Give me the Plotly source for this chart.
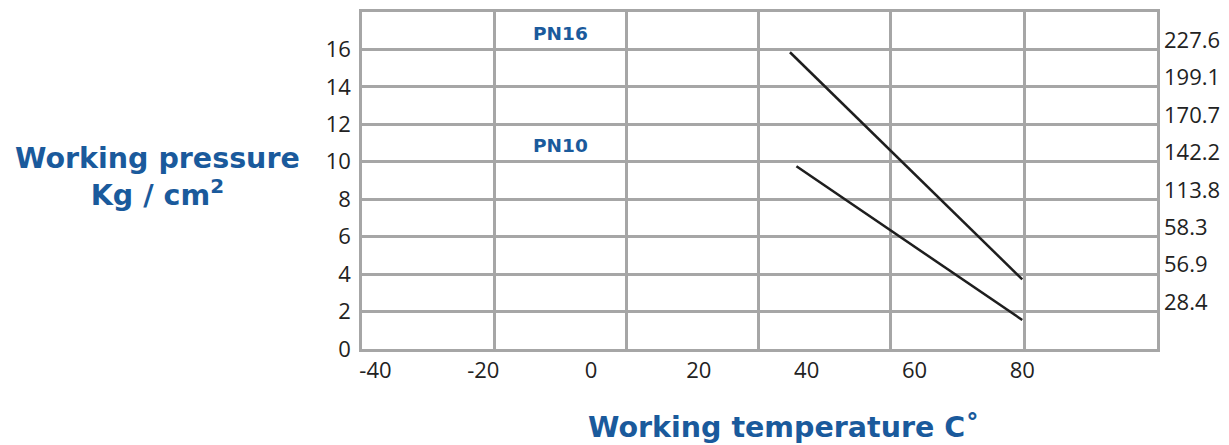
import plotly.graph_objects as go

# Data
pn16_temp = [36.9, 80.0]
pn16_pressure = [15.85, 3.72]
pn10_temp = [38.1, 80.0]
pn10_pressure = [9.76, 1.55]

left_ticks = [0, 2, 4, 6, 8, 10, 12, 14, 16]
temp_tick_vals = [-40, -20, 0, 20, 40, 60, 80]
temp_tick_text = ["-40", "-20", "0", "20", "40", "60", "80"]
right_tick_vals = [2.5, 4.5, 6.5, 8.5, 10.5, 12.5, 14.5, 16.5]
right_tick_text = ["28.4", "56.9", "58.3", "113.8", "142.2", "170.7", "199.1", "227.6"]
grid_x = [-42.5, -18.0, 6.5, 31.0, 55.5, 80.5, 105.0]

BLUE = "#1a5a9c"
GRID = "#a6a6a6"
TICKFONT = dict(family="Open Sans", size=22, color="#222222")
TITLEFONT = "DejaVu Sans"

fig = go.Figure()
fig.add_trace(go.Scatter(x=pn16_temp, y=pn16_pressure, mode="lines",
                         line=dict(color="#1e1e1e", width=2.5), showlegend=False))
fig.add_trace(go.Scatter(x=pn10_temp, y=pn10_pressure, mode="lines",
                         line=dict(color="#1e1e1e", width=2.5), showlegend=False))
# invisible trace to activate right axis
fig.add_trace(go.Scatter(x=[0], y=[0], yaxis="y2", mode="markers",
                         marker=dict(opacity=0), showlegend=False, hoverinfo="skip"))

fig.update_layout(
    width=1229, height=445,
    margin=dict(l=362, r=72, t=12, b=96),
    paper_bgcolor="white", plot_bgcolor="white",
    xaxis=dict(range=[-42.5, 105.0], tickmode="array", tickvals=temp_tick_vals,
               ticktext=temp_tick_text, showgrid=False, zeroline=False,
               showline=True, linecolor=GRID, linewidth=2.5, mirror=True,
               tickfont=TICKFONT, ticks="", ticklabelstandoff=0, automargin=False,
               minor=dict(tickmode="array", tickvals=grid_x, showgrid=True,
                          gridcolor=GRID, gridwidth=2.5, ticks="")),
    yaxis=dict(range=[0, 18], tickmode="array", tickvals=left_ticks,
               showgrid=True, gridcolor=GRID, gridwidth=2.5, zeroline=False,
               showline=True, linecolor=GRID, linewidth=2.5, mirror=True,
               tickfont=TICKFONT, ticks="", ticklabelstandoff=4, automargin=False),
    yaxis2=dict(range=[0, 18], overlaying="y", side="right", tickmode="array",
                tickvals=right_tick_vals, ticktext=right_tick_text,
                showgrid=False, zeroline=False, showline=False, automargin=False,
                tickfont=TICKFONT, ticks="", ticklabelstandoff=6),
    annotations=[
        dict(text="<b>PN16</b>", x=-5.7, y=16.85, xref="x", yref="y",
             showarrow=False, font=dict(family=TITLEFONT, size=18.5, color=BLUE)),
        dict(text="<b>PN10</b>", x=-5.7, y=10.88, xref="x", yref="y",
             showarrow=False, font=dict(family=TITLEFONT, size=18.5, color=BLUE)),
        dict(text="<b>Working pressure</b><br><b>Kg / cm<sup>2</sup></b>",
             x=(157 - 362) / 795, y=(349 - 177) / 337, xref="paper", yref="paper",
             xanchor="center", yanchor="middle", showarrow=False, align="center",
             font=dict(family=TITLEFONT, size=28.5, color=BLUE)),
        dict(text="<b>Working temperature C˚</b>",
             x=(783 - 362) / 795, y=(349 - 427) / 337, xref="paper", yref="paper",
             xanchor="center", yanchor="middle", showarrow=False,
             font=dict(family=TITLEFONT, size=28.5, color=BLUE)),
    ],
)

fig.write_html("out.html", post_script="document.body.style.margin='0';",
               config={"displayModeBar": False})
